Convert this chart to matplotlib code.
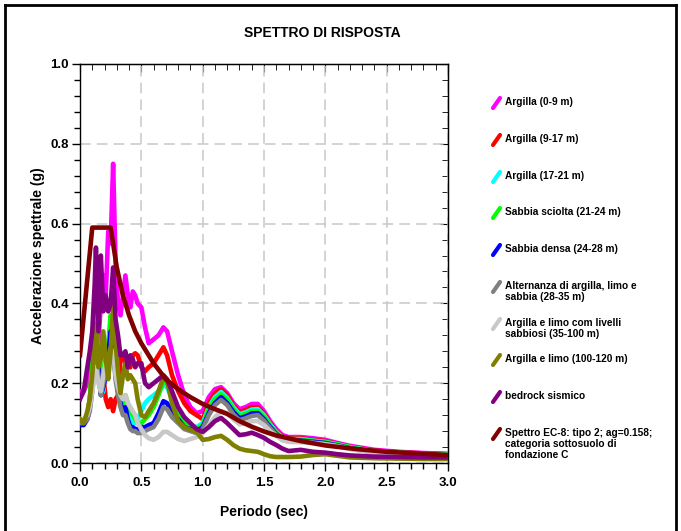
import matplotlib
matplotlib.use("Agg")
import matplotlib.pyplot as plt
from matplotlib.lines import Line2D
from matplotlib.ticker import MultipleLocator

plt.rcParams['font.family'] = ['Liberation Sans', 'DejaVu Sans']
plt.rcParams['font.weight'] = 'bold'

# ---------------- data ----------------
periods = [0.00, 0.03, 0.06, 0.08, 0.10, 0.12, 0.13, 0.15, 0.17, 0.19,
           0.21, 0.23, 0.25, 0.27, 0.29, 0.31, 0.33, 0.35, 0.37, 0.39,
           0.41, 0.43, 0.45, 0.47, 0.50, 0.53, 0.56, 0.60, 0.64, 0.68,
           0.71, 0.75, 0.80, 0.85, 0.90, 0.95, 1.00, 1.05, 1.10, 1.15,
           1.20, 1.25, 1.30, 1.35, 1.40, 1.45, 1.50, 1.55, 1.60, 1.65,
           1.70, 1.80, 1.90, 2.00, 2.10, 2.20, 2.40, 2.60, 2.80, 3.00]

argilla_0_9 = [0.18, 0.18, 0.20, 0.22, 0.26, 0.30, 0.33, 0.30, 0.40, 0.47,
               0.42, 0.58, 0.55, 0.75, 0.50, 0.40, 0.37, 0.42, 0.47, 0.42,
               0.39, 0.43, 0.42, 0.40, 0.39, 0.34, 0.30, 0.31, 0.32, 0.34,
               0.33, 0.28, 0.22, 0.17, 0.14, 0.125, 0.13, 0.165, 0.185, 0.19,
               0.175, 0.15, 0.135, 0.14, 0.148, 0.148, 0.13, 0.105, 0.085, 0.07,
               0.065, 0.065, 0.062, 0.058, 0.05, 0.043, 0.033, 0.028, 0.025, 0.023]

argilla_9_17 = [0.10, 0.10, 0.12, 0.16, 0.24, 0.34, 0.38, 0.26, 0.20, 0.22,
                0.16, 0.14, 0.16, 0.13, 0.16, 0.17, 0.26, 0.27, 0.25, 0.24,
                0.24, 0.27, 0.275, 0.27, 0.24, 0.23, 0.24, 0.25, 0.27, 0.29,
                0.27, 0.22, 0.18, 0.15, 0.13, 0.12, 0.11, 0.15, 0.175, 0.185,
                0.17, 0.145, 0.128, 0.133, 0.14, 0.14, 0.124, 0.10, 0.08, 0.066,
                0.062, 0.062, 0.058, 0.055, 0.048, 0.041, 0.031, 0.027, 0.024, 0.022]

argilla_17_21 = [0.10, 0.10, 0.12, 0.15, 0.22, 0.30, 0.33, 0.25, 0.17, 0.18,
                 0.24, 0.27, 0.26, 0.30, 0.22, 0.20, 0.16, 0.14, 0.15, 0.13,
                 0.11, 0.10, 0.10, 0.11, 0.13, 0.15, 0.16, 0.17, 0.18, 0.195,
                 0.19, 0.16, 0.13, 0.105, 0.095, 0.09, 0.10, 0.14, 0.165, 0.178,
                 0.163, 0.14, 0.122, 0.127, 0.134, 0.135, 0.12, 0.097, 0.078, 0.064,
                 0.06, 0.06, 0.056, 0.053, 0.047, 0.04, 0.030, 0.026, 0.023, 0.021]

sabbia_sciolta = [0.10, 0.10, 0.12, 0.16, 0.25, 0.33, 0.37, 0.27, 0.19, 0.24,
                  0.26, 0.30, 0.37, 0.33, 0.25, 0.21, 0.17, 0.15, 0.17, 0.15,
                  0.13, 0.12, 0.11, 0.10, 0.10, 0.11, 0.12, 0.14, 0.17, 0.205,
                  0.20, 0.17, 0.13, 0.105, 0.092, 0.085, 0.095, 0.135, 0.16, 0.172,
                  0.158, 0.135, 0.118, 0.123, 0.13, 0.13, 0.116, 0.094, 0.076, 0.062,
                  0.058, 0.058, 0.055, 0.052, 0.046, 0.039, 0.029, 0.025, 0.022, 0.02]

sabbia_densa = [0.095, 0.095, 0.11, 0.14, 0.20, 0.27, 0.31, 0.24, 0.17, 0.19,
                0.22, 0.27, 0.33, 0.30, 0.22, 0.18, 0.15, 0.13, 0.14, 0.11,
                0.09, 0.09, 0.085, 0.085, 0.09, 0.09, 0.095, 0.10, 0.125, 0.155,
                0.15, 0.125, 0.11, 0.09, 0.085, 0.08, 0.09, 0.125, 0.15, 0.165,
                0.15, 0.128, 0.112, 0.117, 0.124, 0.125, 0.11, 0.09, 0.073, 0.06,
                0.056, 0.056, 0.053, 0.05, 0.044, 0.037, 0.028, 0.024, 0.021, 0.019]

alternanza = [0.10, 0.10, 0.11, 0.13, 0.18, 0.24, 0.27, 0.22, 0.17, 0.20,
              0.24, 0.26, 0.29, 0.28, 0.21, 0.17, 0.14, 0.12, 0.12, 0.10,
              0.085, 0.08, 0.08, 0.075, 0.075, 0.08, 0.085, 0.09, 0.11, 0.14,
              0.135, 0.115, 0.10, 0.085, 0.08, 0.075, 0.085, 0.12, 0.145, 0.158,
              0.145, 0.122, 0.107, 0.112, 0.118, 0.12, 0.106, 0.087, 0.071, 0.058,
              0.054, 0.054, 0.051, 0.048, 0.043, 0.036, 0.027, 0.023, 0.02, 0.018]

argilla_limo_livelli = [0.11, 0.11, 0.12, 0.14, 0.18, 0.22, 0.24, 0.20, 0.18, 0.22,
                        0.25, 0.23, 0.27, 0.28, 0.22, 0.19, 0.17, 0.16, 0.17, 0.15,
                        0.14, 0.13, 0.12, 0.10, 0.085, 0.07, 0.062, 0.058, 0.065, 0.078,
                        0.078, 0.07, 0.06, 0.055, 0.06, 0.065, 0.075, 0.095, 0.115, 0.13,
                        0.125, 0.11, 0.097, 0.10, 0.105, 0.105, 0.095, 0.08, 0.068, 0.057,
                        0.053, 0.052, 0.05, 0.047, 0.042, 0.035, 0.026, 0.022, 0.019, 0.017]

argilla_limo = [0.11, 0.10, 0.13, 0.16, 0.22, 0.31, 0.35, 0.24, 0.26, 0.33,
                0.26, 0.21, 0.28, 0.39, 0.30, 0.23, 0.175, 0.22, 0.25, 0.21,
                0.22, 0.21, 0.20, 0.16, 0.12, 0.115, 0.13, 0.15, 0.18, 0.215,
                0.205, 0.15, 0.105, 0.09, 0.083, 0.078, 0.058, 0.06, 0.065, 0.068,
                0.058, 0.045, 0.036, 0.032, 0.03, 0.028, 0.022, 0.017, 0.015, 0.015,
                0.015, 0.016, 0.02, 0.022, 0.018, 0.014, 0.012, 0.011, 0.01, 0.01]

bedrock = [0.16, 0.18, 0.24, 0.28, 0.33, 0.45, 0.54, 0.33, 0.52, 0.38,
           0.42, 0.38, 0.40, 0.49, 0.36, 0.32, 0.27, 0.27, 0.28, 0.24,
           0.27, 0.26, 0.24, 0.25, 0.25, 0.20, 0.19, 0.20, 0.21, 0.22,
           0.21, 0.18, 0.14, 0.115, 0.10, 0.085, 0.078, 0.09, 0.105, 0.113,
           0.10, 0.085, 0.07, 0.072, 0.076, 0.07, 0.063, 0.053, 0.045, 0.036,
           0.03, 0.033, 0.028, 0.026, 0.022, 0.019, 0.016, 0.015, 0.014, 0.014]

ec8_periods = [0.0, 0.1, 0.25, 0.3, 0.35, 0.4, 0.45, 0.5, 0.6, 0.7, 0.8, 0.9,
               1.0, 1.1, 1.2, 1.3, 1.4, 1.5, 1.6, 1.8, 2.0, 2.25, 2.5, 2.75, 3.0]
ec8_values = [0.27, 0.59, 0.59, 0.49, 0.42, 0.37, 0.33, 0.30, 0.25, 0.21, 0.185, 0.165,
              0.148, 0.135, 0.123, 0.105, 0.091, 0.079, 0.069, 0.055, 0.044, 0.035,
              0.028, 0.024, 0.020]

labels = ["Argilla (0-9 m)", "Argilla (9-17 m)", "Argilla (17-21 m)",
          "Sabbia sciolta (21-24 m)", "Sabbia densa (24-28 m)",
          "Alternanza di argilla, limo e\nsabbia (28-35 m)",
          "Argilla e limo com livelli\nsabbiosi (35-100 m)",
          "Argilla e limo (100-120 m)", "bedrock sismico",
          "Spettro EC-8: tipo 2; ag=0.158;\ncategoria sottosuolo di\nfondazione C"]
colors = ["#FF00FF", "#FF0000", "#00FFFF", "#00FF00", "#0000FF",
          "#808080", "#C8C8C8", "#808000", "#800080", "#800000"]

series = [argilla_0_9, argilla_9_17, argilla_17_21, sabbia_sciolta, sabbia_densa,
          alternanza, argilla_limo_livelli, argilla_limo, bedrock]

# ---------------- figure ----------------
W, H = 681, 531
fig = plt.figure(figsize=(W / 100, H / 100), dpi=100)
ax = fig.add_axes([80 / W, 1 - 463 / H, (448 - 80) / W, (463 - 64) / H])

lw = 3.3
for vals, col in zip(series, colors[:9]):
    ax.plot(periods, vals, color=col, lw=lw, solid_joinstyle='round', zorder=3)
ax.plot(ec8_periods, ec8_values, color=colors[9], lw=lw, solid_joinstyle='round', zorder=4)

ax.set_xlim(0, 3.0)
ax.set_ylim(0, 1.0)
ax.xaxis.set_major_locator(MultipleLocator(0.5))
ax.xaxis.set_minor_locator(MultipleLocator(0.1))
ax.yaxis.set_major_locator(MultipleLocator(0.2))
ax.yaxis.set_minor_locator(MultipleLocator(0.04))
ax.xaxis.set_major_formatter(plt.FuncFormatter(lambda v, p: f"{v:.1f}"))
ax.yaxis.set_major_formatter(plt.FuncFormatter(lambda v, p: f"{v:.1f}"))
ax.tick_params(which='major', direction='out', length=6, width=1, labelsize=9.5, pad=2)
ax.tick_params(which='minor', direction='out', length=4, width=1)
ax.tick_params(axis='x', pad=4)
for lab in ax.get_xticklabels() + ax.get_yticklabels():
    lab.set_fontweight('bold')

ax.grid(True, which='major', color='#C8C8C8', linestyle=(0, (7, 4)), lw=1.1, zorder=1)

secx = ax.secondary_xaxis('top')
secx.set_xticks([0, 0.5, 1.0, 1.5, 2.0, 2.5, 3.0])
secx.xaxis.set_minor_locator(MultipleLocator(0.1))
secx.tick_params(which='major', direction='in', length=6, labeltop=False)
secx.tick_params(which='minor', direction='in', length=4)
secy = ax.secondary_yaxis('right')
secy.set_yticks([0, 0.2, 0.4, 0.6, 0.8, 1.0])
secy.yaxis.set_minor_locator(MultipleLocator(0.04))
secy.tick_params(which='major', direction='in', length=6, labelright=False)
secy.tick_params(which='minor', direction='in', length=4)

for sp in ax.spines.values():
    sp.set_linewidth(1.0)

ax.set_xlabel("Periodo (sec)", fontsize=10, fontweight='bold')
ax.set_ylabel("Accelerazione spettrale (g)", fontsize=10, fontweight='bold')
ax.xaxis.set_label_coords(0.5, -0.105)
ax.yaxis.set_label_coords(-0.095, 0.52)

fig.text(322 / W, 1 - 33 / H, "SPETTRO DI RISPOSTA", ha='center', va='center',
         fontsize=10, fontweight='bold')

# legend (manual)
first_line_y = [103, 140, 177, 213, 250, 287, 324, 360, 397, 434]
for lab, col, yc in zip(labels, colors, first_line_y):
    fig.add_artist(Line2D([493 / W, 500 / W], [1 - (yc + 5) / H, 1 - (yc - 5) / H],
                          color=col, lw=3.0, solid_capstyle='round'))
    fig.text(505 / W, 1 - (yc - 6) / H, lab, ha='left', va='top',
             fontsize=7.3, fontweight='bold', linespacing=1.1)

# figure frame
frame_kw = dict(color='black', lw=2.0)
fig.add_artist(Line2D([5 / W, 5 / W], [0, 1 - 5 / H], **frame_kw))
fig.add_artist(Line2D([5 / W, 676 / W], [1 - 5 / H, 1 - 5 / H], **frame_kw))
fig.add_artist(Line2D([676 / W, 676 / W], [0, 1 - 5 / H], **frame_kw))

fig.savefig("out.png", dpi=100)
